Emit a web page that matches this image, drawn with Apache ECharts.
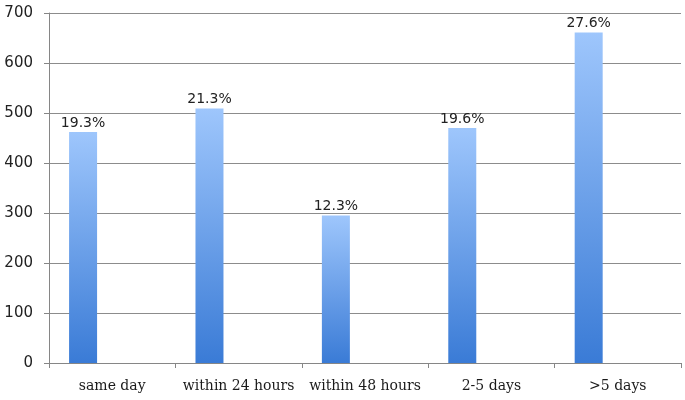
<!DOCTYPE html>
<html>
<head>
<meta charset="utf-8">
<script src="https://cdn.jsdelivr.net/npm/echarts@6/dist/echarts.min.js"></script>
<style>html,body{margin:0;padding:0;background:#fff}#c{width:685px;height:400px}</style>
</head>
<body>
<div id="c"></div>
<script>
var categories = ['same day', 'within 24 hours', 'within 48 hours', '2-5 days', '>5 days'];
var counts = [462, 509, 295, 470, 661];
var percentLabels = ['19.3%', '21.3%', '12.3%', '19.6%', '27.6%'];
var yTicks = [0, 100, 200, 300, 400, 500, 600, 700];

var chart = echarts.init(document.getElementById('c'), null, {renderer: 'canvas'});
chart.setOption({
  animation: false,
  backgroundColor: '#ffffff',
  grid: {left: 49, right: 4, top: 13, bottom: 37},
  xAxis: {
    type: 'category',
    data: categories,
    boundaryGap: true,
    axisLine: {lineStyle: {color: '#868686', width: 1}},
    axisTick: {show: true, length: 5, lineStyle: {color: '#868686'}},
    axisLabel: {color: '#1a1a1a', fontFamily: 'DejaVu Serif', fontSize: 14, margin: 16, interval: 0}
  },
  yAxis: {
    type: 'value',
    min: yTicks[0],
    max: yTicks[yTicks.length - 1],
    interval: 100,
    axisLine: {show: true, lineStyle: {color: '#868686', width: 1}},
    axisTick: {show: true, length: 5, lineStyle: {color: '#868686'}},
    splitLine: {show: true, lineStyle: {color: '#8c8c8c', width: 1}},
    axisLabel: {color: '#222', fontFamily: 'DejaVu Sans', fontSize: 15, margin: 16}
  },
  series: [
    {
      type: 'bar',
      data: counts,
      barWidth: 28,
      barGap: '108%',
      itemStyle: {
        color: new echarts.graphic.LinearGradient(0, 0, 0, 1, [
          {offset: 0, color: '#9ec6fc'},
          {offset: 1, color: '#3a7bd6'}
        ])
      },
      label: {
        show: true,
        position: 'top',
        distance: 2,
        color: '#222',
        fontFamily: 'DejaVu Sans',
        fontSize: 14,
        formatter: function (p) { return percentLabels[p.dataIndex]; }
      }
    },
    {
      type: 'bar',
      data: categories.map(function () { return '-'; }),
      barWidth: 28,
      silent: true
    }
  ]
});
</script>
</body>
</html>
